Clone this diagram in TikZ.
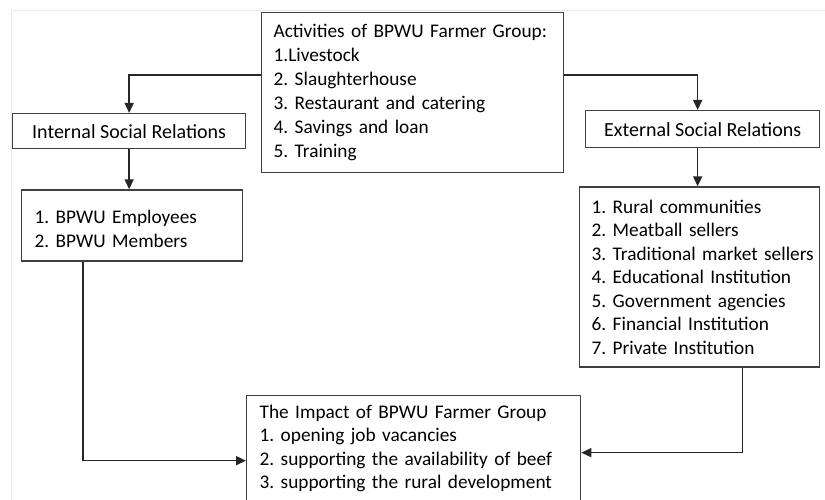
\documentclass[tikz,border=0pt]{standalone}
\usepackage{fontspec}
\setmainfont{Carlito}
\usepackage{tikz}
\usetikzlibrary{arrows.meta, positioning}
\frenchspacing

\begin{document}
\begin{tikzpicture}[
  x=1pt, y=1pt,
  node distance=40pt and 20pt,
  every node/.style={text=black},
  box/.style={rectangle, draw=black!75, line width=1.3pt, align=center, inner ysep=0pt,
    font=\fontsize{20pt}{24pt}\selectfont},
  listbox/.style={rectangle, draw=black!75, line width=1.3pt, align=left, inner xsep=12pt, inner ysep=0pt,
    font=\fontsize{19.3pt}{23.5pt}\selectfont},
  arrow/.style={-{Triangle[length=10pt, width=9pt]}, line width=1.5pt, draw=black!85}
]

\useasboundingbox (0,0) rectangle (825,-500);

% Page frame
\draw[black!8, line width=1pt] (11,-500) -- (11,-11) -- (825,-11);

% Activities node
\node[listbox, text width=278pt, minimum height=160pt, anchor=north west,
  font=\fontsize{19.3pt}{24pt}\selectfont] (activities) at (261,-12)
  {Activities of BPWU Farmer Group:\\1.Livestock\\2. Slaughterhouse\\3. Restaurant and catering\\4. Savings and loan\\5. Training};

% Relation nodes
\node[box, minimum width=233pt, minimum height=35pt, anchor=north west] (internal_relations) at (12,-113) {Internal Social Relations};
\node[box, minimum width=234pt, minimum height=37pt, anchor=north west] (external_relations) at (585,-110) {External Social Relations};

% List nodes
\node[listbox, text width=195pt, inner xsep=13pt, minimum height=71pt, text depth=17pt, below=40pt of internal_relations, xshift=3pt] (internal_list)
  {1. BPWU Employees\\2. BPWU Members};
\node[listbox, text width=216pt, minimum height=180pt, below=38pt of external_relations, xshift=-3pt] (external_list)
  {1. Rural communities\\2. Meatball sellers\\\mbox{3. Traditional market sellers}\\4. Educational Institution\\5. Government agencies\\6. Financial Institution\\7. Private Institution};

% Impact node
\node[listbox, text width=308pt, inner xsep=13pt, minimum height=106pt, anchor=north west] (impact) at (246,-395)
  {The Impact of BPWU Farmer Group\\1. opening job vacancies\\2. supporting the availability of beef\\3. supporting the rural development};

% Arrows
\draw[arrow] ([yshift=-63pt]activities.north west) -| (internal_relations.north);
\draw[arrow] ([yshift=-63pt]activities.north east) -| ([xshift=-5pt]external_relations.north);
\draw[arrow] (internal_relations.south) -- (internal_relations.south |- internal_list.north);
\draw[arrow] ([xshift=-5pt]external_relations.south) -- ([xshift=-5pt]external_relations.south |- external_list.north);
\draw[arrow] ([xshift=62pt]internal_list.south west) |- ([yshift=-12pt]impact.west);
\draw[arrow] ([xshift=-78pt]external_list.south east) |- ([yshift=-4pt]impact.east);

\end{tikzpicture}
\end{document}
